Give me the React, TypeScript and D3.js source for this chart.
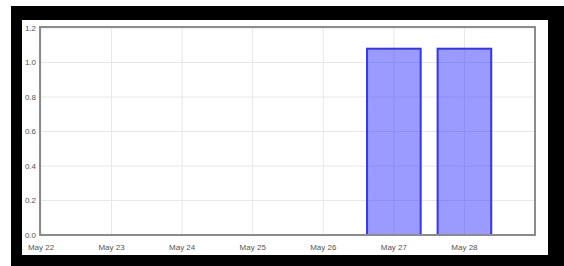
import React from 'react';
import * as d3 from 'd3';

// chart data
const barDates = ['2013-05-27', '2013-05-28'];
const barValues = [1.08, 1.08];
const tickDates = ['2013-05-22', '2013-05-23', '2013-05-24', '2013-05-25', '2013-05-26', '2013-05-27', '2013-05-28'];
const yTicks = [0, 0.2, 0.4, 0.6, 0.8, 1.0, 1.2];
const xDomain = ['2013-05-22', '2013-05-29'];

const W = 564;
const H = 266;
const plot = { left: 41, right: 535, top: 28, bottom: 235 };

const parse = d3.timeParse('%Y-%m-%d');
const fmt = d3.timeFormat('%b %d');

export default function App() {
  const x = d3.scaleTime()
    .domain(xDomain.map(d => parse(d) as Date))
    .range([plot.left, plot.right]);
  const y = d3.scaleLinear().domain([0, 1.2]).range([plot.bottom, plot.top]);
  const dayPx = x(parse('2013-05-23') as Date) - x(parse('2013-05-22') as Date);
  const barW = dayPx * 0.76;

  return (
    <svg width={W} height={H} style={{ position: 'absolute', left: 0, top: 0, display: 'block' }}
      fontFamily="Arial, 'Liberation Sans', sans-serif">
      <rect x={0} y={0} width={W} height={H} fill="#fff" />
      {/* black frame */}
      <rect x={11} y={6} width={W - 11} height={H - 6} fill="#000" />
      <rect x={22} y={20} width={526} height={235} fill="#fff" />

      {/* grid */}
      {yTicks.map(t => (
        <line key={'gy' + t} x1={plot.left} x2={plot.right} y1={y(t)} y2={y(t)} stroke="#e8e8e8" strokeWidth={1} />
      ))}
      {tickDates.map(d => {
        const xx = x(parse(d) as Date);
        return <line key={'gx' + d} x1={xx} x2={xx} y1={plot.top} y2={plot.bottom} stroke="#e8e8e8" strokeWidth={1} />;
      })}

      {/* bars */}
      {barDates.map((d, i) => {
        const cx = x(parse(d) as Date);
        return (
          <rect key={d} x={cx - barW / 2} y={y(barValues[i])} width={barW} height={y(0) - y(barValues[i])}
            fill="rgba(40,40,255,0.47)" stroke="#3535f2" strokeWidth={2} />
        );
      })}

      {/* border */}
      <rect x={plot.left - 1} y={plot.top - 1} width={plot.right - plot.left + 1} height={plot.bottom - plot.top + 1}
        fill="none" stroke="#8c8c8c" strokeWidth={2} />

      {/* y labels */}
      {yTicks.map(t => (
        <text key={'ly' + t} x={36} y={y(t)} dy="0.35em" textAnchor="end" fontSize={8} fill="#555">
          {t.toFixed(1)}
        </text>
      ))}
      {/* x labels */}
      {tickDates.map(d => (
        <text key={'lx' + d} x={x(parse(d) as Date)} y={247} dy="0.35em" textAnchor="middle" fontSize={8} fill="#555">
          {fmt(parse(d) as Date)}
        </text>
      ))}
    </svg>
  );
}
